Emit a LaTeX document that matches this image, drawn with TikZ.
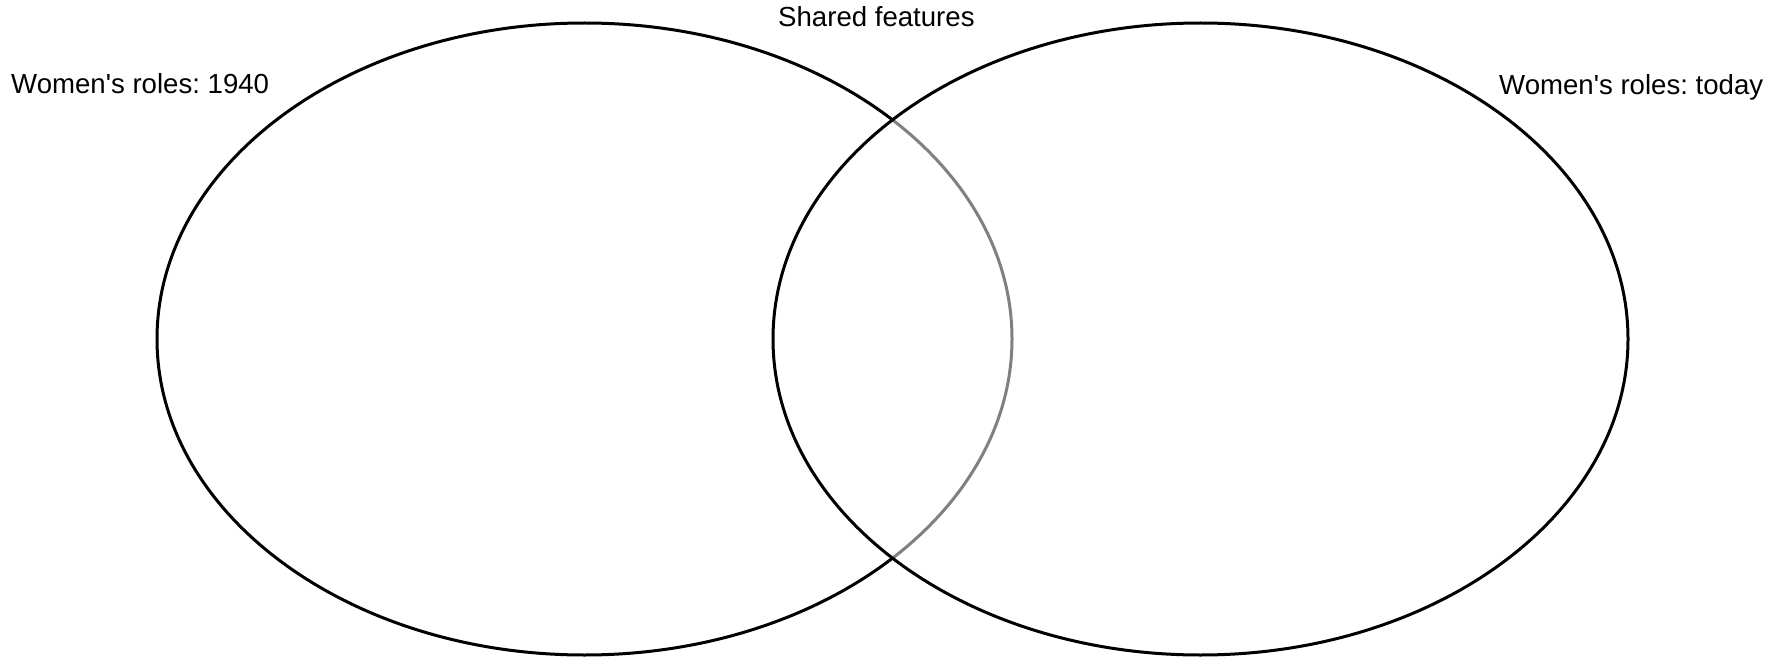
\documentclass[tikz,border=0pt]{standalone}
\usepackage{fontspec}
\setmainfont{Liberation Sans}
\frenchspacing
\begin{document}
\begin{tikzpicture}[x=1pt,y=-1pt,
  ring/.style={line width=3pt,draw=black},
  faded/.style={line width=3pt,draw=black!50},
  label/.style={inner sep=0pt,anchor=base west,font=\fontsize{27.6}{32}\selectfont}]
\useasboundingbox (0,0) rectangle (1786,658);
\coordinate (cl) at (584.5,339);
\coordinate (cr) at (1200.5,339);
% left ellipse
\draw[ring] (cl) ellipse [x radius=427.5, y radius=316];
% part of left ellipse inside right ellipse, faded
\begin{scope}
  \clip (cr) ellipse [x radius=427.5, y radius=316];
  \draw[line width=4.5pt,draw=white] (cl) ellipse [x radius=427.5, y radius=316];
  \draw[faded] (cl) ellipse [x radius=427.5, y radius=316];
\end{scope}
% right ellipse
\draw[ring] (cr) ellipse [x radius=427.5, y radius=316];
% labels
\node[label] (l1940) at (11,94) {Women\textquotesingle s roles: 1940};
\node[label] (shared) at (778,27) {Shared features};
\node[label] (ltoday) at (1499,95) {Women\textquotesingle s roles: today};
\end{tikzpicture}
\end{document}
